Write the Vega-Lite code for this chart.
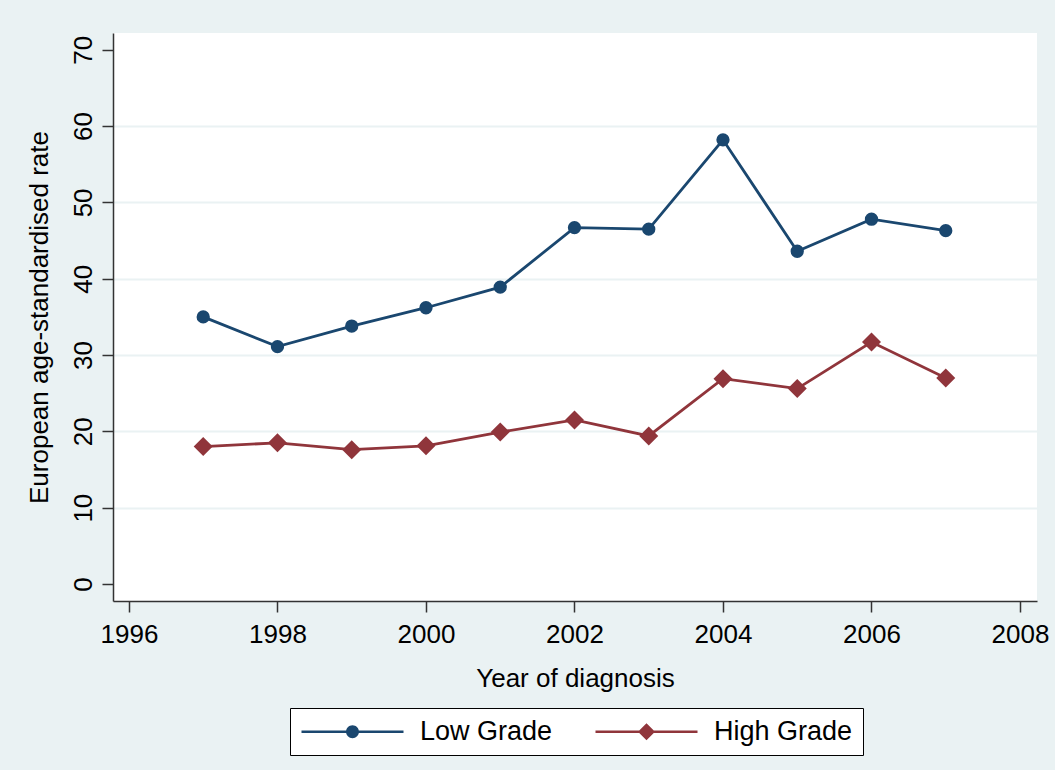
{
  "$schema": "https://vega.github.io/schema/vega-lite/v6.json",
  "autosize": {"type": "none"},
  "width": 924,
  "height": 568,
  "padding": {"left": 113, "top": 33, "right": 18, "bottom": 169},
  "background": "#eaf2f3",
  "config": {
    "view": {"fill": "white", "stroke": null},
    "font": "Liberation Sans"
  },
  "data": {
    "values": [
      {"year": 1997, "grade": "Low Grade", "rate": 35.0},
      {"year": 1998, "grade": "Low Grade", "rate": 31.1},
      {"year": 1999, "grade": "Low Grade", "rate": 33.8},
      {"year": 2000, "grade": "Low Grade", "rate": 36.2},
      {"year": 2001, "grade": "Low Grade", "rate": 38.9},
      {"year": 2002, "grade": "Low Grade", "rate": 46.7},
      {"year": 2003, "grade": "Low Grade", "rate": 46.5},
      {"year": 2004, "grade": "Low Grade", "rate": 58.2},
      {"year": 2005, "grade": "Low Grade", "rate": 43.6},
      {"year": 2006, "grade": "Low Grade", "rate": 47.8},
      {"year": 2007, "grade": "Low Grade", "rate": 46.3},
      {"year": 1997, "grade": "High Grade", "rate": 18.0},
      {"year": 1998, "grade": "High Grade", "rate": 18.5},
      {"year": 1999, "grade": "High Grade", "rate": 17.6},
      {"year": 2000, "grade": "High Grade", "rate": 18.1},
      {"year": 2001, "grade": "High Grade", "rate": 19.9},
      {"year": 2002, "grade": "High Grade", "rate": 21.5},
      {"year": 2003, "grade": "High Grade", "rate": 19.4},
      {"year": 2004, "grade": "High Grade", "rate": 26.9},
      {"year": 2005, "grade": "High Grade", "rate": 25.6},
      {"year": 2006, "grade": "High Grade", "rate": 31.7},
      {"year": 2007, "grade": "High Grade", "rate": 27.0}
    ]
  },
  "encoding": {
    "x": {
      "field": "year",
      "type": "quantitative",
      "scale": {"domain": [1995.785, 2008.229], "nice": false, "zero": false},
      "axis": {
        "values": [1996, 1998, 2000, 2002, 2004, 2006, 2008],
        "format": "d",
        "grid": false,
        "tickSize": 11,
        "tickColor": "#333333",
        "tickWidth": 1.5,
        "domainColor": "#333333",
        "domainWidth": 1.5,
        "labelFontSize": 26,
        "labelColor": "black",
        "labelPadding": 9,
        "labelFlush": false,
        "labelOverlap": false,
        "title": "Year of diagnosis",
        "titleFontSize": 26,
        "titleFontWeight": "normal",
        "titleColor": "black",
        "titlePadding": 18
      }
    },
    "y": {
      "field": "rate",
      "type": "quantitative",
      "scale": {"domain": [-2.23, 72.2], "nice": false, "zero": false},
      "axis": {
        "values": [0, 10, 20, 30, 40, 50, 60, 70],
        "grid": true,
        "gridColor": "#eaf2f3",
        "gridWidth": 2,
        "gridOpacity": {"condition": {"test": "datum.value === 0 || datum.value === 70", "value": 0}, "value": 1},
        "tickSize": 11,
        "tickColor": "#333333",
        "tickWidth": 1.5,
        "domainColor": "#333333",
        "domainWidth": 1.5,
        "labelFontSize": 26,
        "labelColor": "black",
        "labelAngle": -90,
        "labelAlign": "center",
        "labelBaseline": "bottom",
        "labelPadding": 6,
        "labelFlush": false,
        "labelOverlap": false,
        "title": "European age-standardised rate",
        "titleFontSize": 26,
        "titleFontWeight": "normal",
        "titleColor": "black",
        "titlePadding": 18
      }
    },
    "color": {
      "field": "grade",
      "type": "nominal",
      "scale": {"domain": ["Low Grade", "High Grade"], "range": ["#1a476f", "#90353b"]},
      "legend": {
        "title": null,
        "orient": "none",
        "legendX": 177,
        "legendY": 675,
        "direction": "horizontal",
        "padding": 10,
        "strokeColor": "black",
        "fillColor": "white",
        "labelFontSize": 27,
        "labelFont": "Liberation Sans",
        "labelColor": "black",
        "symbolSize": 576,
        "symbolStrokeWidth": 0,
        "symbolOpacity": 1,
        "labelOffset": 93,
        "columnPadding": 41,
        "labelLimit": 400,
        "encode": {
          "symbols": {
            "update": {
              "shape": {"signal": "datum.value === 'Low Grade' ? 'M-1,-0.108H7.5V0.108H-1Z M3.79,0A0.54,0.54 0 1,1 2.71,0A0.54,0.54 0 1,1 3.79,0Z' : 'M-1,-0.108H7.5V0.108H-1Z M3.25,-0.71L3.96,0L3.25,0.71L2.54,0Z'"},
              "fill": {"signal": "datum.value === 'Low Grade' ? '#1a476f' : '#90353b'"},
              "stroke": {"value": "transparent"},
              "opacity": {"value": 1}
            }
          }
        }
      }
    }
  },
  "layer": [
    {
      "mark": {"type": "line", "strokeWidth": 2.8}
    },
    {
      "transform": [{"filter": "datum.grade === 'Low Grade'"}],
      "mark": {"type": "point", "filled": true, "opacity": 1, "shape": "circle", "size": 177}
    },
    {
      "transform": [{"filter": "datum.grade === 'High Grade'"}],
      "mark": {"type": "point", "filled": true, "opacity": 1, "shape": "diamond", "size": 361}
    }
  ]
}
